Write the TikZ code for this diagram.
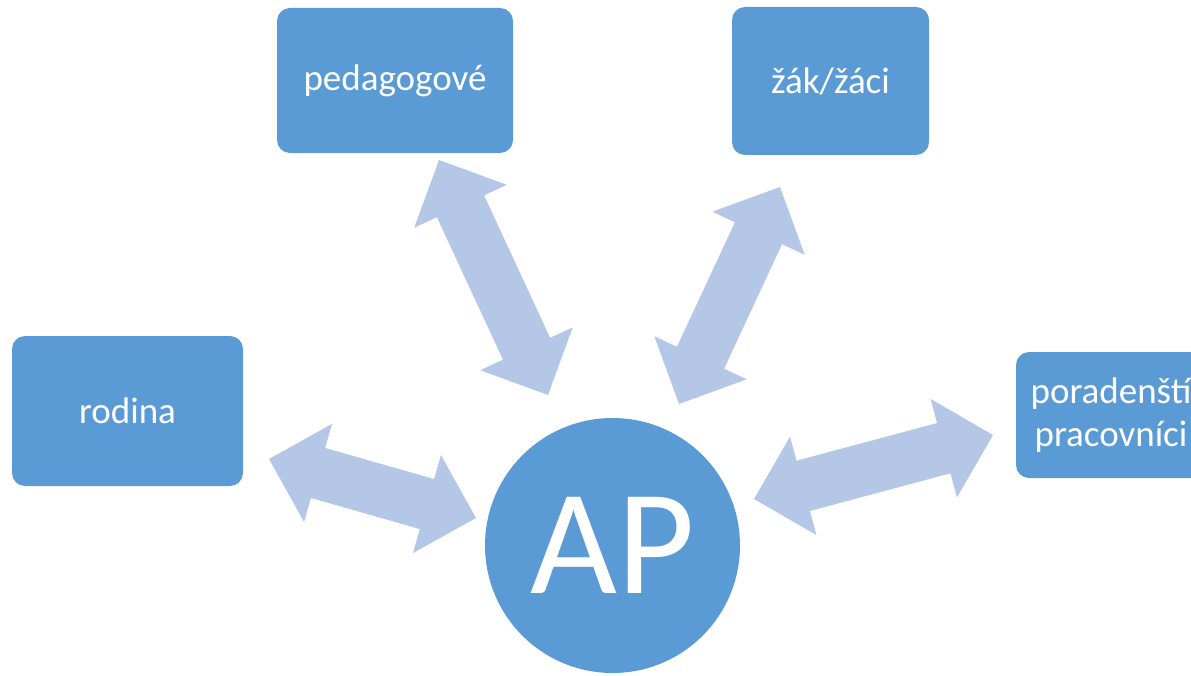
\documentclass[tikz,border=0pt]{standalone}
\usepackage{fontspec}
\setmainfont{Carlito}
\usetikzlibrary{calc}
\definecolor{boxblue}{HTML}{5B9BD5}
\definecolor{arrowblue}{HTML}{B4C7E7}

\begin{document}
\begin{tikzpicture}[x=1pt,y=-1pt,
  box/.style={fill=boxblue,text=white,rounded corners=13pt,inner sep=0pt,align=center,font=\fontsize{37}{43}\selectfont},
  hub/.style={circle,fill=boxblue,text=white,inner sep=0pt,minimum size=255pt,font=\fontsize{150}{150}\selectfont}]
% The frame
\clip (0,0) rectangle (1191,676);
% The boxes
\node[box,minimum width=236pt,minimum height=145pt] (ped) at (395,80.5) {pedagogové};
\node[box,minimum width=197pt,minimum height=148pt] (zak) at (830.5,81) {žák/žáci};
\node[box,minimum width=231pt,minimum height=150pt] (rod) at (127.5,411) {rodina};
\node[box,minimum width=190pt,minimum height=126pt] (por) at (1111,415) {poradenští\\pracovníci};
\node[hub] (ap) at (612.5,545.5) {AP};
% The arrow ends
\coordinate (ped1) at (439,160);
\coordinate (ap1) at (548,395);
\coordinate (zak1) at (780,187);
\coordinate (ap2) at (679,404);
\coordinate (rod1) at (269,459);
\coordinate (ap3) at (476,518);
\coordinate (por1) at (993,435);
\coordinate (ap4) at (754,499);
% The double arrows
\foreach \a/\b in {ped1/ap1,zak1/ap2,rod1/ap3,por1/ap4}
{
  \coordinate (h1) at ($(\a)!51pt!(\b)$);
  \coordinate (h2) at ($(\b)!51pt!(\a)$);
  \fill[arrowblue] (\a) -- ($(h1)!51pt!90:(\a)$) -- ($(h1)!26pt!90:(\a)$)
    -- ($(h2)!26pt!-90:(\b)$) -- ($(h2)!51pt!-90:(\b)$) -- (\b)
    -- ($(h2)!51pt!90:(\b)$) -- ($(h2)!26pt!90:(\b)$)
    -- ($(h1)!26pt!-90:(\a)$) -- ($(h1)!51pt!-90:(\a)$) -- cycle;
}
\end{tikzpicture}
\end{document}
